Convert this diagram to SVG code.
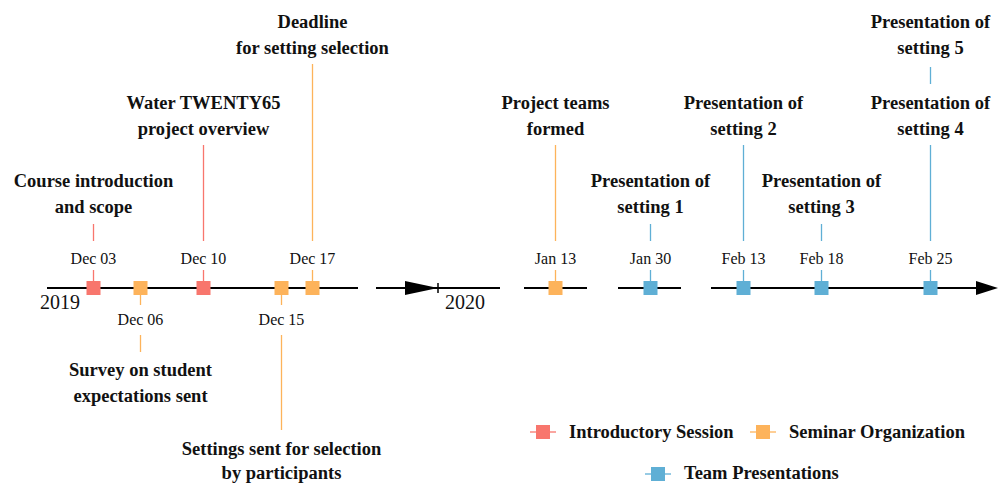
<svg xmlns="http://www.w3.org/2000/svg" width="998" height="483" viewBox="0 0 998 483">
  <style>
    .axis { stroke: #000; stroke-width: 2; fill: none; }
    .stem { stroke-width: 1.3; fill: none; }
    .intro { fill: #F8766D; stroke: #F8766D; }
    .sem { fill: #FDB35B; stroke: #FDB35B; }
    .team { fill: #5FAFD5; stroke: #5FAFD5; }
    .s-intro { stroke: #F8766D; }
    .s-sem { stroke: #FDB35B; }
    .s-team { stroke: #5FAFD5; }
    .ev { font-family: "Liberation Serif", "Times New Roman", serif; font-weight: bold; font-size: 18.5px; fill: #111; text-anchor: middle; }
    .date { font-family: "Liberation Serif", "Times New Roman", serif; font-size: 16px; fill: #111; text-anchor: middle; }
    .year { font-family: "Liberation Serif", "Times New Roman", serif; font-size: 20px; fill: #111; text-anchor: middle; }
    .leg { font-family: "Liberation Serif", "Times New Roman", serif; font-weight: bold; font-size: 18.5px; fill: #111; }
  </style>
  <defs>
    <rect id="mk" x="-7" y="-7" width="14" height="14" stroke="none"/>
  </defs>

  <!-- timeline axis -->
  <g id="connectors">
    <line class="axis" x1="47" y1="288" x2="358" y2="288"/>
    <line class="axis" x1="376" y1="288" x2="500" y2="288"/>
    <polygon points="405,281 438,288 405,295" fill="#000"/>
    <line x1="438" y1="283" x2="438" y2="293" stroke="#000" stroke-width="1.5"/>
    <line class="axis" x1="524" y1="288" x2="587" y2="288"/>
    <line class="axis" x1="618" y1="288" x2="681" y2="288"/>
    <line class="axis" x1="711" y1="288" x2="980" y2="288"/>
    <polygon points="976,281 998,288 976,295" fill="#000"/>

    <!-- stems -->
    <line class="stem s-intro" x1="93.5" y1="224" x2="93.5" y2="241"/>
    <line class="stem s-intro" x1="93.5" y1="270" x2="93.5" y2="281"/>
    <line class="stem s-sem" x1="140.5" y1="295" x2="140.5" y2="305"/>
    <line class="stem s-sem" x1="140.5" y1="335" x2="140.5" y2="352"/>
    <line class="stem s-intro" x1="203.5" y1="145" x2="203.5" y2="241"/>
    <line class="stem s-intro" x1="203.5" y1="270" x2="203.5" y2="281"/>
    <line class="stem s-sem" x1="281.5" y1="295" x2="281.5" y2="305"/>
    <line class="stem s-sem" x1="281.5" y1="335" x2="281.5" y2="430"/>
    <line class="stem s-sem" x1="312.5" y1="64" x2="312.5" y2="241"/>
    <line class="stem s-sem" x1="312.5" y1="270" x2="312.5" y2="281"/>
    <line class="stem s-sem" x1="555.5" y1="145" x2="555.5" y2="241"/>
    <line class="stem s-sem" x1="555.5" y1="270" x2="555.5" y2="281"/>
    <line class="stem s-team" x1="650.5" y1="224" x2="650.5" y2="241"/>
    <line class="stem s-team" x1="650.5" y1="270" x2="650.5" y2="281"/>
    <line class="stem s-team" x1="743.5" y1="145" x2="743.5" y2="241"/>
    <line class="stem s-team" x1="743.5" y1="270" x2="743.5" y2="281"/>
    <line class="stem s-team" x1="821.5" y1="224" x2="821.5" y2="241"/>
    <line class="stem s-team" x1="821.5" y1="270" x2="821.5" y2="281"/>
    <line class="stem s-team" x1="930.5" y1="145" x2="930.5" y2="241"/>
    <line class="stem s-team" x1="930.5" y1="270" x2="930.5" y2="281"/>
    <line class="stem s-team" x1="930.5" y1="67" x2="930.5" y2="84"/>
  </g>

  <text class="year" x="60" y="309">2019</text>
  <text class="year" x="465" y="309">2020</text>

  <g id="dec03">
    <use href="#mk" class="intro" x="93.5" y="288"/>
    <text class="date" x="93.5" y="264">Dec 03</text>
    <text class="ev" x="93.5" y="187">Course introduction</text>
    <text class="ev" x="93.5" y="213">and scope</text>
  </g>
  <g id="dec06">
    <use href="#mk" class="sem" x="140.5" y="288"/>
    <text class="date" x="140.5" y="325">Dec 06</text>
    <text class="ev" x="140.5" y="376">Survey on student</text>
    <text class="ev" x="140.5" y="402">expectations sent</text>
  </g>
  <g id="dec10">
    <use href="#mk" class="intro" x="203.5" y="288"/>
    <text class="date" x="203.5" y="264">Dec 10</text>
    <text class="ev" x="203.5" y="109">Water TWENTY65</text>
    <text class="ev" x="203.5" y="135">project overview</text>
  </g>
  <g id="dec15">
    <use href="#mk" class="sem" x="281.5" y="288"/>
    <text class="date" x="281.5" y="325">Dec 15</text>
    <text class="ev" x="281.5" y="455">Settings sent for selection</text>
    <text class="ev" x="281.5" y="479">by participants</text>
  </g>
  <g id="dec17">
    <use href="#mk" class="sem" x="312.5" y="288"/>
    <text class="date" x="312.5" y="264">Dec 17</text>
    <text class="ev" x="312.5" y="28">Deadline</text>
    <text class="ev" x="312.5" y="54">for setting selection</text>
  </g>
  <g id="jan13">
    <use href="#mk" class="sem" x="555.5" y="288"/>
    <text class="date" x="555.5" y="264">Jan 13</text>
    <text class="ev" x="555.5" y="109">Project teams</text>
    <text class="ev" x="555.5" y="135">formed</text>
  </g>
  <g id="jan30">
    <use href="#mk" class="team" x="650.5" y="288"/>
    <text class="date" x="650.5" y="264">Jan 30</text>
    <text class="ev" x="650.5" y="187">Presentation of</text>
    <text class="ev" x="650.5" y="213">setting 1</text>
  </g>
  <g id="feb13">
    <use href="#mk" class="team" x="743.5" y="288"/>
    <text class="date" x="743.5" y="264">Feb 13</text>
    <text class="ev" x="743.5" y="109">Presentation of</text>
    <text class="ev" x="743.5" y="135">setting 2</text>
  </g>
  <g id="feb18">
    <use href="#mk" class="team" x="821.5" y="288"/>
    <text class="date" x="821.5" y="264">Feb 18</text>
    <text class="ev" x="821.5" y="187">Presentation of</text>
    <text class="ev" x="821.5" y="213">setting 3</text>
  </g>
  <g id="feb25">
    <use href="#mk" class="team" x="930.5" y="288"/>
    <text class="date" x="930.5" y="264">Feb 25</text>
    <text class="ev" x="930.5" y="109">Presentation of</text>
    <text class="ev" x="930.5" y="135">setting 4</text>
    <text class="ev" x="930.5" y="28">Presentation of</text>
    <text class="ev" x="930.5" y="54">setting 5</text>
  </g>

  <!-- legend -->
  <g id="legend">
    <line class="stem s-intro" x1="530" y1="432" x2="556" y2="432"/>
    <use href="#mk" class="intro" x="543" y="432"/>
    <text class="leg" x="569" y="438">Introductory Session</text>
    <line class="stem s-sem" x1="750" y1="432" x2="776" y2="432"/>
    <use href="#mk" class="sem" x="763" y="432"/>
    <text class="leg" x="789" y="438">Seminar Organization</text>
    <line class="stem s-team" x1="645" y1="474" x2="671" y2="474"/>
    <use href="#mk" class="team" x="658" y="474"/>
    <text class="leg" x="684" y="479">Team Presentations</text>
  </g>
</svg>
